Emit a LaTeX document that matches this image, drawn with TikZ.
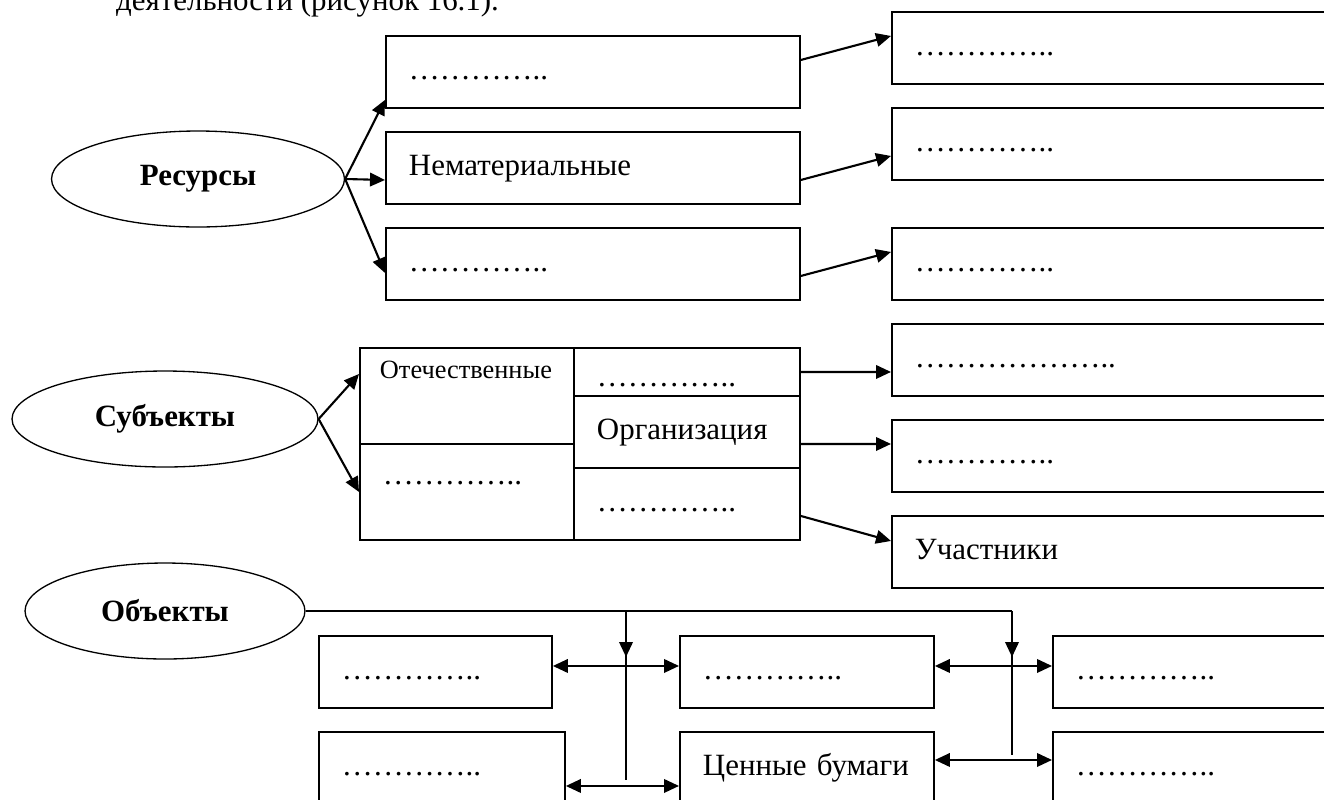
\documentclass[tikz,border=0pt]{standalone}
\usepackage{fontspec}
\setmainfont{Liberation Serif}
\usetikzlibrary{shapes.geometric,arrows.meta}

\newcommand{\dt}{…………..}
\newcommand{\dtlong}{………………..}

\begin{document}
\begin{tikzpicture}[x=0.02cm,y=-0.02cm,
  every node/.style={font=\fontsize{17.6}{21}\selectfont},
  oval/.style={draw,ellipse,line width=0.75pt,font=\fontsize{17.6}{21}\selectfont\bfseries,minimum height=1.92cm},
  box/.style={draw,rectangle,line width=1.1pt,anchor=north west,minimum height=1.44cm,inner xsep=0.46cm,inner ysep=0pt,
    text height=0.44cm,text depth=0.13cm,align=left,text width=#1},
  arr/.style={line width=1.2pt,-{Triangle[length=0.3cm,width=0.27cm]}},
  darr/.style={line width=1.2pt,{Triangle[length=0.3cm,width=0.27cm]}-{Triangle[length=0.3cm,width=0.27cm]}},
  bus/.style={line width=0.7pt}]
\useasboundingbox (0,0) rectangle (1324,799);
\clip (0,0) rectangle (1324,799);

\node[anchor=base west] (head) at (110,10) {деятельности (рисунок 16.1).};

% Ресурсы
\node[oval,minimum width=5.86cm] (res) at (198,179) {Ресурсы};
\node[box=7.36cm] (r1) at (385,35) {\dt};
\node[box=7.36cm] (r2) at (385,131) {Нематериальные};
\node[box=7.36cm] (r3) at (385,227) {\dt};
\node[box=8.28cm] (s1) at (891,11) {\dt};
\node[box=8.28cm] (s2) at (891,107) {\dt};
\node[box=8.28cm] (s3) at (891,227) {\dt};
\draw[arr] (res.east) -- ([yshift=0.18cm]r1.south west);
\draw[arr] (res.east) -- ([yshift=-0.24cm]r2.west);
\draw[arr] (res.east) -- ([yshift=-0.18cm]r3.west);
\draw[arr] ([yshift=0.24cm]r1.east) -- ([yshift=0.24cm]s1.west);
\draw[arr] ([yshift=-0.24cm]r2.east) -- ([yshift=-0.24cm]s2.west);
\draw[arr] ([yshift=-0.24cm]r3.east) -- ([yshift=0.24cm]s3.west);

% Субъекты
\node[oval,minimum width=6.12cm] (sub) at (165,419) {Субъекты};
\node[box=3.48cm,inner xsep=0.4cm,minimum height=1.92cm,font=\fontsize{15}{18}\selectfont,text height=0.38cm,text depth=1.06cm] (t1) at (359,347) {Отечественные};
\node[box=3.36cm,minimum height=1.92cm,text height=0.44cm,text depth=0.72cm] (t2) at (359,443) {\dt};
\node[box=3.6cm,minimum height=0.96cm,text height=0.74cm,text depth=0.14cm] (t3) at (573,347) {\dt};
\node[box=3.6cm] (t4) at (573,395) {Организация};
\node[box=3.6cm] (t5) at (573,467) {\dt};
\node[box=8.28cm] (u1) at (891,323) {\dtlong};
\node[box=8.28cm] (u2) at (891,419) {\dt};
\node[box=8.28cm] (u3) at (891,515) {Участники};
\draw[arr] (sub.east) -- ([yshift=0.44cm]t1.west);
\draw[arr] (sub.east) -- (t2.west);
\draw[arr] (t3.east) -- ([yshift=-0.24cm]u1.west);
\draw[arr] ([yshift=-0.24cm]t4.east) -- ([yshift=0.24cm]u2.west);
\draw[arr] ([yshift=-0.24cm]t5.east) -- ([yshift=0.22cm]u3.west);

% Объекты
\node[oval,minimum width=5.6cm] (obj) at (165,611) {Объекты};
\node[box=3.74cm] (a1) at (318,635) {\dt};
\node[box=4cm] (a2) at (318,731) {\dt};
\node[box=4.16cm] (b1) at (679,635) {\dt};
\node[box=4.16cm] (b2) at (679,731) {Ценные бумаги};
\node[box=5.06cm] (c1) at (1052,635) {\dt};
\node[box=5.06cm] (c2) at (1052,731) {\dt};
\coordinate (k1) at (626,611);
\coordinate (k2) at (1012,611);
\coordinate (k1tip) at (626,657);
\coordinate (k2tip) at (1012,657);
\coordinate (k1end) at (626,780);
\coordinate (k2end) at (1012,755);
\draw[bus] (obj.east) -- (k2);
\draw[bus] (k1) -- (k1end);
\draw[bus] (k2) -- (k2end);
\draw[arr] (k1) -- (k1tip);
\draw[arr] (k2) -- (k2tip);
\draw[darr] ([yshift=0.12cm]a1.east) -- ([yshift=0.12cm]b1.west);
\draw[darr] ([yshift=0.12cm]b1.east) -- ([yshift=0.12cm]c1.west);
\draw[darr] ([yshift=-0.36cm]a2.east) -- ([yshift=-0.36cm]b2.west);
\draw[darr] ([yshift=0.16cm]b2.east) -- ([yshift=0.16cm]c2.west);
\end{tikzpicture}
\end{document}
